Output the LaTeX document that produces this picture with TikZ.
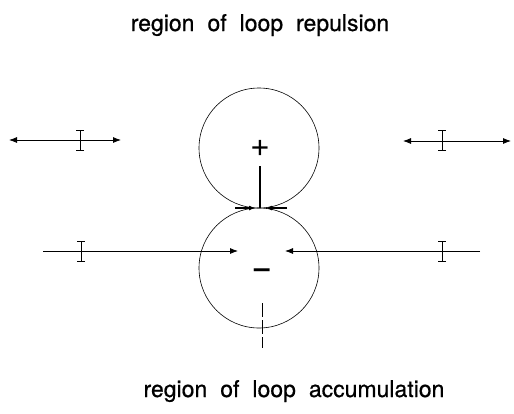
\documentclass[tikz,border=0pt]{standalone}
\usepackage{fontspec}
\setmainfont{TeX Gyre Heros}
\newfontfamily\capfont{TeX Gyre Heros}[FakeBold=0.6]
\usetikzlibrary{arrows,arrows.meta}

\begin{document}
\begin{tikzpicture}[x=1pt,y=-1pt,>={Latex[length=8pt,width=6pt]},line width=0.8pt,
    loopring/.style={circle,draw,line width=0.6pt,minimum size=120pt,inner sep=0pt},
    sign/.style={font=\fontsize{34}{34}\selectfont,inner sep=0pt},
    caption/.style={font=\capfont\fontsize{23}{28}\selectfont,execute at begin node={\spaceskip=13pt\relax},anchor=base,inner sep=0pt},
    ibeam/.style={{Bar[width=8pt]}-{Bar[width=8pt]},line width=0.9pt}]
    \useasboundingbox (0,0) rectangle (514,413);
    % the two loops
    \node[loopring] (upper) at (259,148) {};
    \node[loopring] (lower) at (259,268) {};
    \node[sign] (plus) at (260,148) {+};
    \node[sign,font=\fontsize{28}{28}\bfseries\selectfont] (minus) at (262,273) {--};
    \coordinate (stem) at (260,166);
    \coordinate (touch) at (260,208);
    \draw[line width=1.6pt] (stem) -- (touch);
    \coordinate (pinchL) at (235,208);
    \coordinate (pinchLend) at (255,208);
    \coordinate (pinchR) at (287,208);
    \coordinate (pinchRend) at (266,208);
    \draw[-{Latex[length=6pt,width=5pt]},line width=1.1pt] (pinchL) -- (pinchLend);
    \draw[-{Latex[length=6pt,width=5pt]},line width=1.1pt] (pinchR) -- (pinchRend);
    \coordinate (tailtop) at (262,303);
    \coordinate (tailbot) at (262,348);
    \draw[line width=0.6pt,dash pattern=on 14pt off 3pt] (tailtop) -- (tailbot);
    % pushed apart
    \coordinate (repLa) at (9,140);
    \coordinate (repLb) at (121,140);
    \coordinate (repRa) at (403,141);
    \coordinate (repRb) at (511,141);
    \draw[<->] (repLa) -- (repLb);
    \draw[<->] (repRa) -- (repRb);
    \draw[ibeam] (80,130) -- (80,151);
    \draw[ibeam] (442,130) -- (442,151);
    % pulled together
    \coordinate (accL) at (43,251);
    \coordinate (accLend) at (238,251);
    \coordinate (accR) at (480,251);
    \coordinate (accRend) at (285,251);
    \draw[->] (accL) -- (accLend);
    \draw[->] (accR) -- (accRend);
    \draw[ibeam] (81,241) -- (81,262);
    \draw[ibeam] (442,241) -- (442,262);
    % captions
    \node[caption] (repulsion) at (260,31) {region of loop repulsion};
    \node[caption] (accumulation) at (294,397) {region of loop accumulation};
\end{tikzpicture}
\end{document}
